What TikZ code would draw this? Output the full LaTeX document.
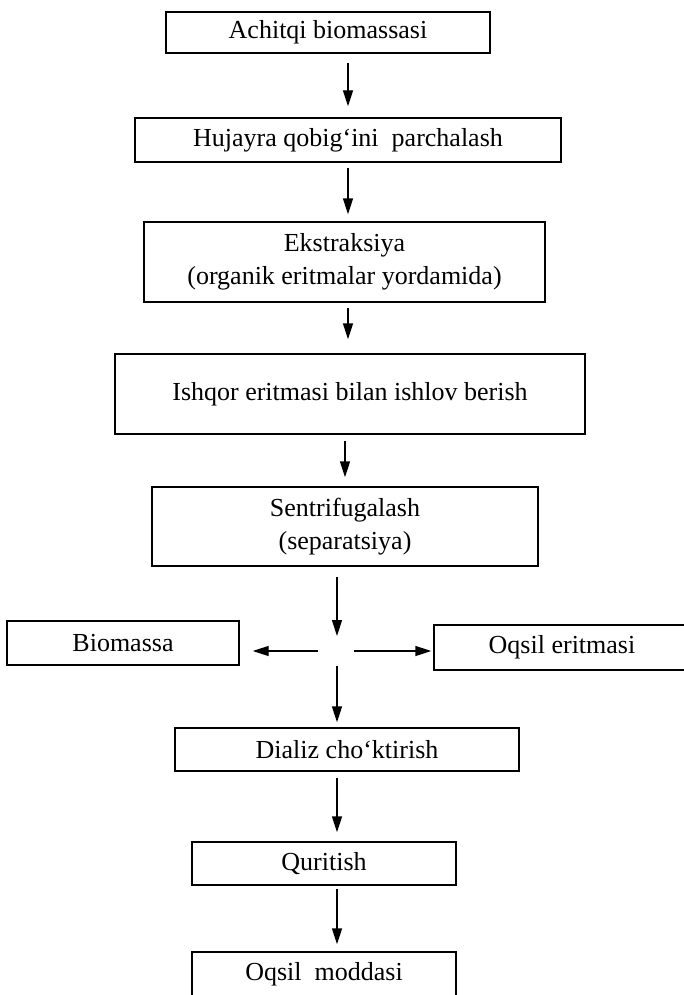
\documentclass[tikz,border=0pt]{standalone}
\usepackage{fontspec}
\setmainfont{Liberation Serif}
\usetikzlibrary{arrows.meta}
\begin{document}
\begin{tikzpicture}[x=1pt,y=-1pt,
  box/.style={draw, line width=1.4pt, inner sep=0pt, align=center,
    font=\fontsize{26}{33}\selectfont},
  arr/.style={line width=1.4pt, -{Triangle[length=16pt,width=10pt]}}]
\path[use as bounding box, clip] (0,0) rectangle (684,995);
\fill[white] (0,0) rectangle (684,995);
\node[box, minimum width=324pt, minimum height=41pt] (b1) at (328,32.5) {Achitqi biomassasi};
\node[box, minimum width=426pt, minimum height=44pt] (b2) at (348,140) {Hujayra qobig`ini\ \ parchalash};
\node[box, minimum width=401pt, minimum height=80pt] (b3) at (344.5,262) {Ekstraksiya\\(organik eritmalar yordamida)};
\node[box, minimum width=470pt, minimum height=80pt] (b4) at (350,394) {Ishqor eritmasi bilan ishlov berish};
\node[box, minimum width=386pt, minimum height=79pt] (b5) at (345,526.5) {Sentrifugalash\\(separatsiya)};
\node[box, minimum width=232pt, minimum height=44pt] (bio) at (123,643) {Biomassa};
\node[box, minimum width=256pt, minimum height=45pt] (oqe) at (562,647.5) {Oqsil eritmasi};
\node[box, minimum width=344pt, minimum height=43pt] (dial) at (347,749.5) {Dializ cho‘ktirish};
\node[box, minimum width=264pt, minimum height=43pt] (qur) at (324,863.5) {Quritish};
\node[box, minimum width=264pt, minimum height=45pt] (oqm) at (324,974.5) {Oqsil\ \ moddasi};
\coordinate (xa) at (348,0);
\coordinate (xb) at (345,0);
\coordinate (sp) at (337,651);
\draw[arr, shorten <=9pt, shorten >=11pt] (b1.south -| xa) -- (b2.north -| xa);
\draw[arr, shorten <=5pt, shorten >=7pt] (b2.south -| xa) -- (b3.north -| xa);
\draw[arr, shorten <=5pt, shorten >=14pt] (b3.south -| xa) -- (b4.north -| xa);
\draw[arr, shorten <=6pt, shorten >=9pt] (b4.south -| xb) -- (b5.north -| xb);
\draw[arr, shorten <=10pt, shorten >=15pt] (b5.south -| sp) -- (sp);
\draw[arr, shorten <=19pt, shorten >=13pt] (sp) -- (bio.east |- sp);
\draw[arr, shorten <=17pt, shorten >=2pt] (sp) -- (oqe.west |- sp);
\draw[arr, shorten <=15pt, shorten >=5pt] (sp) -- (dial.north -| sp);
\draw[arr, shorten <=6pt, shorten >=9pt] (dial.south -| sp) -- (qur.north -| sp);
\draw[arr, shorten <=3pt, shorten >=7pt] (qur.south -| sp) -- (oqm.north -| sp);
\end{tikzpicture}
\end{document}
